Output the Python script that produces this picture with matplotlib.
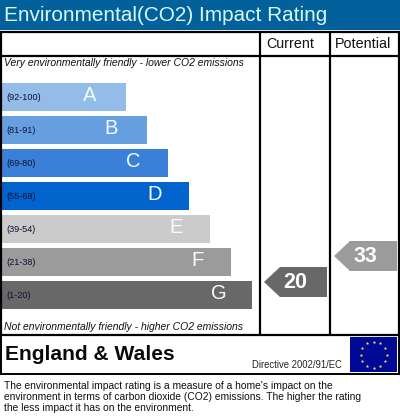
import matplotlib
matplotlib.use('Agg')
import matplotlib.pyplot as plt
import numpy as np
from matplotlib.patches import Polygon, Rectangle

# Data
letters = ['A', 'B', 'C', 'D', 'E', 'F', 'G']
ranges = ['(92-100)', '(81-91)', '(69-80)', '(55-68)', '(39-54)', '(21-38)', '(1-20)']
bar_lengths = [124, 145, 166, 187, 208, 229, 250]
bar_colors = ['#93bce8', '#659fe0', '#3a80d8', '#0263cc', '#cbcbcb', '#9b9b9b', '#686868']
current_rating = 20
potential_rating = 33
current_color = '#686868'
potential_color = '#9b9b9b'

plt.rcParams['font.family'] = ['Liberation Sans', 'DejaVu Sans']

fig = plt.figure(figsize=(4, 4.19), dpi=100, facecolor='white')
ax = fig.add_axes([0, 0, 1, 1])
ax.set_xlim(0, 400)
ax.set_ylim(419, 0)
ax.axis('off')

# header band
ax.add_patch(Rectangle((0, 0), 400, 30, color='#02619a', lw=0))
ax.text(4, 15.5, 'Environmental(CO2) Impact Rating', color='#d8f8f8', fontsize=14.95, va='center', ha='left')

# frame
for x in [1, 260, 330, 398.5]:
    ax.plot([x, x], [32, 335], color='black', lw=1.6, solid_capstyle='butt')
for y in [32, 56.5, 335]:
    ax.plot([0, 400], [y, y], color='black', lw=1.6, solid_capstyle='butt')
ax.plot([0, 400], [373.5, 373.5], color='black', lw=1.4)
ax.plot([1, 1], [335, 373.5], color='black', lw=1.4)
ax.plot([398.5, 398.5], [335, 373.5], color='black', lw=1.4)

ax.text(290, 44, 'Current', fontsize=10.3, color='#111111', ha='center', va='center')
ax.text(363, 44, 'Potential', fontsize=10.4, color='#111111', ha='center', va='center')

ax.text(4, 63.5, 'Very environmentally friendly - lower CO2 emissions', fontsize=7.45, style='italic',
        color='#111111', va='center')
ax.text(4, 327, 'Not environmentally friendly - higher CO2 emissions', fontsize=7.45, style='italic',
        color='#111111', va='center')

# bands
y_pos = 97 + 33 * np.arange(len(letters))
ax.barh(y_pos, bar_lengths, height=28, left=2, color=bar_colors, lw=0)
for y, length, letter, rng in zip(y_pos, bar_lengths, letters, ranges):
    ax.text(6.5, y + 0.5, rng, fontsize=6.6, color='#111133', va='center')
    ax.text(length * 1.02 - 36.5, y - 1.5, letter, fontsize=14.5, color='#f4fbff', va='center', ha='center')


# rating arrows, height on the column follows the rating
def arrow(left, rating, color):
    yc = 322 - 2 * rating
    pts = [(left, yc), (left + 16, yc - 15), (left + 63, yc - 15), (left + 63, yc + 15), (left + 16, yc + 15)]
    ax.add_patch(Polygon(pts, closed=True, color=color, lw=0))
    ax.text(left + 31, yc, str(rating), fontsize=15.5, fontweight='bold', color='white', ha='center', va='center')


arrow(264, current_rating, current_color)
arrow(334, potential_rating, potential_color)

# footer
ax.text(5, 354.5, 'England & Wales', fontsize=15.1, fontweight='bold', color='#0a0a0a', va='center')
ax.text(252, 365, 'Directive 2002/91/EC', fontsize=6.85, color='#222222', va='center')

ax.add_patch(Rectangle((350, 337), 47, 35, color='#000a96', lw=0))
angles = np.deg2rad(np.arange(0, 360, 30))
ax.scatter(373.5 + 13 * np.cos(angles), 354.5 + 13 * np.sin(angles), s=3, color='#f2e24a', marker='*', lw=0.3)

note = ["The environmental impact rating is a measure of a home's impact on the",
        'environment in terms of carbon dioxide (CO2) emissions. The higher the rating',
        'the less impact it has on the environment.']
for i, line in enumerate(note):
    ax.text(3.5, 386 + 11 * i, line, fontsize=7.4, color='#111111', va='center')

plt.savefig('out.png', dpi=100)
